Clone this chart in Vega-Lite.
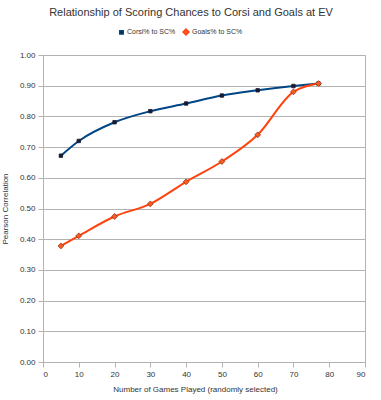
{
  "$schema": "https://vega.github.io/schema/vega-lite/v6.json",
  "width": 322,
  "height": 307,
  "autosize": {"type": "none"},
  "padding": {"left": 43, "top": 55, "right": 16, "bottom": 38},
  "background": "white",
  "config": {
    "font": "Liberation Sans",
    "view": {"stroke": "#b3b3b3", "strokeWidth": 1}
  },
  "title": {
    "text": "Relationship of Scoring Chances to Corsi and Goals at EV",
    "fontSize": 11,
    "fontWeight": "normal",
    "color": "#333333",
    "anchor": "middle",
    "dx": -13,
    "offset": 10
  },
  "data": {
    "values": [
      {"games": 5, "series": "Corsi% to SC%", "r": 0.672},
      {"games": 10, "series": "Corsi% to SC%", "r": 0.72},
      {"games": 20, "series": "Corsi% to SC%", "r": 0.781},
      {"games": 30, "series": "Corsi% to SC%", "r": 0.817},
      {"games": 40, "series": "Corsi% to SC%", "r": 0.842},
      {"games": 50, "series": "Corsi% to SC%", "r": 0.868},
      {"games": 60, "series": "Corsi% to SC%", "r": 0.885},
      {"games": 70, "series": "Corsi% to SC%", "r": 0.899},
      {"games": 77, "series": "Corsi% to SC%", "r": 0.907},
      {"games": 5, "series": "Goals% to SC%", "r": 0.378},
      {"games": 10, "series": "Goals% to SC%", "r": 0.411},
      {"games": 20, "series": "Goals% to SC%", "r": 0.474},
      {"games": 30, "series": "Goals% to SC%", "r": 0.515},
      {"games": 40, "series": "Goals% to SC%", "r": 0.587},
      {"games": 50, "series": "Goals% to SC%", "r": 0.653},
      {"games": 60, "series": "Goals% to SC%", "r": 0.74},
      {"games": 70, "series": "Goals% to SC%", "r": 0.88},
      {"games": 77, "series": "Goals% to SC%", "r": 0.907}
    ]
  },
  "encoding": {
    "x": {
      "field": "games",
      "type": "quantitative",
      "scale": {"domain": [0, 90], "nice": false},
      "axis": {
        "title": "Number of Games Played (randomly selected)",
        "values": [0, 10, 20, 30, 40, 50, 60, 70, 80, 90],
        "grid": false,
        "domainColor": "#b3b3b3",
        "tickColor": "#b3b3b3",
        "tickSize": 5,
        "labelFontSize": 8,
        "labelColor": "#333333",
        "labelPadding": 3,
        "titleFontSize": 8,
        "titleFontWeight": "normal",
        "titleColor": "#333333",
        "titlePadding": 7,
        "titleX": 152
      }
    },
    "y": {
      "field": "r",
      "type": "quantitative",
      "scale": {"domain": [0, 1], "nice": false},
      "axis": {
        "title": "Pearson Correlation",
        "values": [0, 0.1, 0.2, 0.3, 0.4, 0.5, 0.6, 0.7, 0.8, 0.9, 1.0],
        "format": ".2f",
        "gridColor": "#b3b3b3",
        "domainColor": "#b3b3b3",
        "tickColor": "#b3b3b3",
        "tickSize": 5,
        "labelFontSize": 8,
        "labelColor": "#333333",
        "labelPadding": 3,
        "titleFontSize": 8,
        "titleFontWeight": "normal",
        "titleColor": "#333333",
        "titlePadding": 10
      }
    },
    "color": {
      "field": "series",
      "type": "nominal",
      "scale": {"domain": ["Corsi% to SC%", "Goals% to SC%"], "range": ["#004586", "#ff420e"]},
      "legend": {
        "title": null,
        "orient": "none",
        "direction": "horizontal",
        "legendX": 75,
        "legendY": -27,
        "symbolSize": 40,
        "labelFontSize": 7,
        "labelColor": "#333333",
        "columnPadding": 4,
        "labelOffset": 2
      }
    }
  },
  "layer": [
    {
      "mark": {"type": "line", "interpolate": "monotone", "strokeWidth": 2}
    },
    {
      "mark": {"type": "point", "filled": true, "opacity": 1, "strokeWidth": 0.8},
      "encoding": {
        "shape": {
          "field": "series",
          "type": "nominal",
          "scale": {"domain": ["Corsi% to SC%", "Goals% to SC%"], "range": ["square", "diamond"]},
          "legend": null
        },
        "size": {
          "field": "series",
          "type": "nominal",
          "scale": {"domain": ["Corsi% to SC%", "Goals% to SC%"], "range": [12, 34]},
          "legend": null
        },
        "fill": {
          "field": "series",
          "type": "nominal",
          "scale": {"domain": ["Corsi% to SC%", "Goals% to SC%"], "range": ["#1a1a2e", "#ff5a1e"]},
          "legend": null
        },
        "stroke": {
          "field": "series",
          "type": "nominal",
          "scale": {"domain": ["Corsi% to SC%", "Goals% to SC%"], "range": ["#1a1a2e", "#8a3a20"]},
          "legend": null
        }
      }
    }
  ]
}
